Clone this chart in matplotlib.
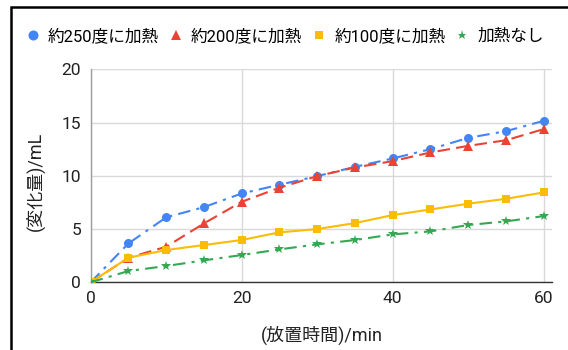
import matplotlib
matplotlib.use("Agg")
import matplotlib.pyplot as plt
from matplotlib.lines import Line2D
from matplotlib.patches import Rectangle

plt.rcParams['font.family'] = ['Roboto', 'Noto Sans CJK JP', 'DejaVu Sans']

# elapsed time (min)
minutes = [0, 5, 10, 15, 20, 25, 30, 35, 40, 45, 50, 55, 60]

# change in volume (mL) for each heating condition
heat_250 = [0, 3.65, 6.1, 7.06, 8.34, 9.16, 9.97, 10.84, 11.63, 12.5, 13.56, 14.19, 15.16]
heat_200 = [0, 2.3, 3.34, 5.53, 7.56, 8.88, 9.97, 10.78, 11.38, 12.19, 12.81, 13.34, 14.38]
heat_100 = [0, 2.31, 3.03, 3.5, 3.97, 4.69, 5.0, 5.56, 6.31, 6.84, 7.38, 7.84, 8.44]
no_heat = [0, 1.06, 1.53, 2.06, 2.56, 3.09, 3.56, 3.97, 4.5, 4.78, 5.38, 5.72, 6.22]

series_labels = ['約250度に加熱', '約200度に加熱', '約100度に加熱', '加熱なし']
x_ticks = [0, 20, 40, 60]
y_ticks = [0, 5, 10, 15, 20]
x_label = '(放置時間)/min'
y_label = '(変化量)/mL'

colors = ['#4285F4', '#EA4335', '#FBBC04', '#34A853']
markers = ['o', '^', 's', '*']
marker_sizes = [6.5, 6.5, 6, 7.5]
legend_marker_sizes = [7.2, 6.5, 5.5, 6.5]
dashes = [(6, 3, 1.5, 3), (6, 3), None, (6, 3, 1.5, 3)]

W, H = 568, 350
fig = plt.figure(figsize=(W / 100, H / 100), dpi=100)
ax = fig.add_axes([90.7 / W, 1 - 282.3 / H, (552 - 90.7) / W, (282.3 - 69.3) / H])

all_series = [heat_250, heat_200, heat_100, no_heat]
for i in [3, 2, 1, 0]:
    line, = ax.plot(minutes, all_series[i], color=colors[i], marker=markers[i],
                    markersize=marker_sizes[i], linewidth=1.5,
                    markeredgewidth=0, zorder=3 + i * 0.1)
    if dashes[i] is not None:
        line.set_dashes(dashes[i])

ax.set_xlim(0, (552 - 90.7) / 7.55)
ax.set_ylim(0, 20)
ax.set_xticks(x_ticks)
ax.set_yticks(y_ticks)
ax.grid(True, color='#d9d9d9', linewidth=1)
ax.set_axisbelow(True)
ax.tick_params(length=0, labelsize=12.5, colors='#222222')
ax.tick_params(axis='y', pad=7)
ax.tick_params(axis='x', pad=6)
for s in ['top', 'right']:
    ax.spines[s].set_visible(False)
ax.spines['left'].set_color('#9e9e9e')
ax.spines['bottom'].set_color('#333333')
ax.spines['left'].set_linewidth(1)
ax.spines['bottom'].set_linewidth(1)

fig.text(322 / W, 1 - 335 / H, x_label, ha='center', va='center',
         fontsize=13, color='#222222')
fig.text(35 / W, 1 - 181 / H, y_label, rotation=90, ha='center', va='center',
         fontsize=13, color='#222222')

handles = [Line2D([], [], linestyle='none', marker=markers[i], color=colors[i],
                  markersize=legend_marker_sizes[i], markeredgewidth=0)
           for i in range(4)]
fig.legend(handles, series_labels, loc='center left', ncol=4, frameon=False,
           bbox_to_anchor=(26.3 / W, 1 - 36 / H), fontsize=12,
           borderpad=0, borderaxespad=0,
           handlelength=0.8, handletextpad=0.5, columnspacing=0.62)

# frame around the figure region
fig.patches.append(Rectangle((10.5 / W, -0.1), 1.2, 1.1 - 7.5 / H,
                             transform=fig.transFigure, fill=False,
                             edgecolor='black', linewidth=1.8))

fig.savefig('out.png', dpi=100)
